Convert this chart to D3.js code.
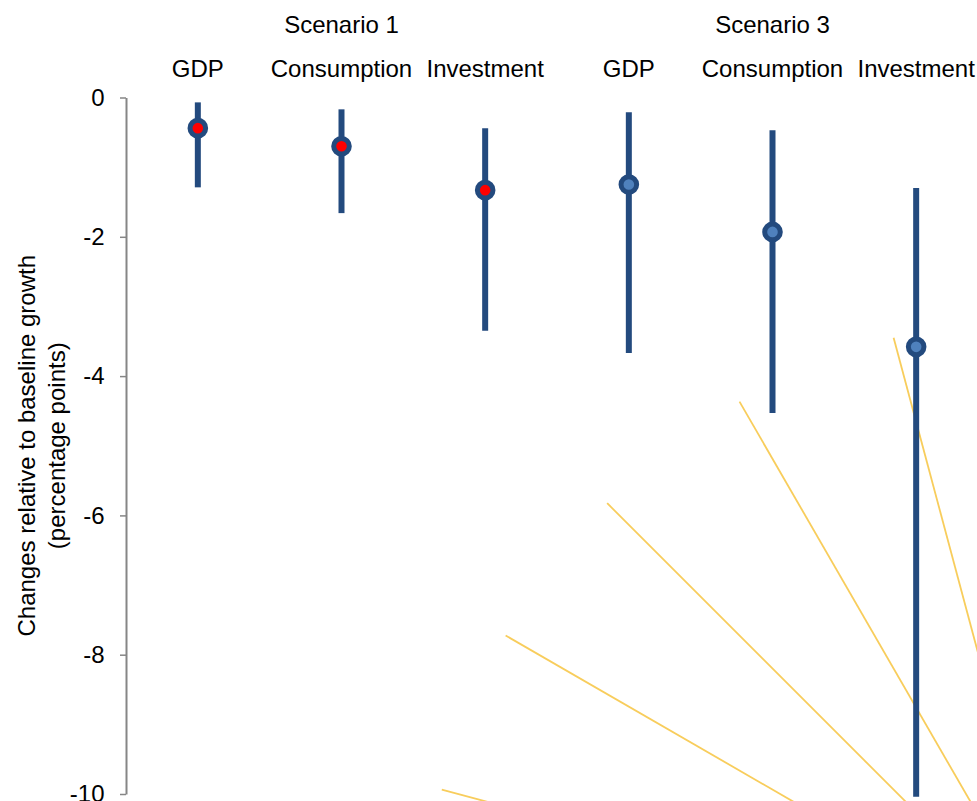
<!DOCTYPE html>
<html>
<head>
<meta charset="utf-8">
<script src="https://cdn.jsdelivr.net/npm/d3@7"></script>
<style>
  html, body { margin: 0; padding: 0; background: #ffffff; }
  svg { display: block; font-family: "Liberation Sans", Arial, sans-serif; }
</style>
</head>
<body>
<svg id="chart" width="977" height="801"></svg>
<script>
// Categories along the x axis (three per scenario)
const categories = ["GDP", "Consumption", "Investment", "GDP", "Consumption", "Investment"];
const scenarioOf = [0, 0, 0, 1, 1, 1];
const scenarios = ["Scenario 1", "Scenario 3"];

// Central estimate and range, change vs baseline growth (pp)
const central = [-0.44, -0.70, -1.33, -1.25, -1.93, -3.58];
const upper   = [-0.07, -0.17, -0.44, -0.21, -0.47, -1.30];
const lower   = [-1.29, -1.66, -3.35, -3.67, -4.53, -10.04];

const yTicks = [0, -2, -4, -6, -8, -10];

// Decorative background rays (degrees from vertical)
const rayAngles = [15, 30, 45, 60, 75];

const svg = d3.select("#chart");
const fontSize = 24;
const dark = "#234a7e";
const fills = ["#ff0000", "#4f81bd"];

const x = d3.scaleBand().domain(d3.range(categories.length)).range([126, 988]).padding(0);
const y = d3.scaleLinear().domain([0, -10]).range([97.5, 794]);
const cx = i => x(i) + x.bandwidth() / 2;

// Background rays
const rayCenter = [1059, 955];
const rayR = d3.scaleLinear().domain([0, 1]).range([639, 0]);
svg.append("g").selectAll("line")
  .data(rayAngles)
  .join("line")
  .attr("x1", a => rayCenter[0] + d3.pointRadial(-a * Math.PI / 180, rayR(0))[0])
  .attr("y1", a => rayCenter[1] + d3.pointRadial(-a * Math.PI / 180, rayR(0))[1])
  .attr("x2", a => rayCenter[0] + d3.pointRadial(-a * Math.PI / 180, rayR(1))[0])
  .attr("y2", a => rayCenter[1] + d3.pointRadial(-a * Math.PI / 180, rayR(1))[1])
  .attr("stroke", "#f8cd5c")
  .attr("stroke-width", 1.8);

// Y axis
const yAxis = d3.axisLeft(y)
  .tickValues(yTicks)
  .tickFormat(d => String(d))
  .tickSize(6)
  .tickSizeOuter(0)
  .tickPadding(15.5);

const gy = svg.append("g").attr("transform", "translate(126,0)").call(yAxis);
gy.select(".domain").attr("stroke", "#868686").attr("stroke-width", 2);
gy.selectAll(".tick line").attr("stroke", "#868686").attr("stroke-width", 1.5);
gy.selectAll(".tick text")
  .attr("fill", "#000")
  .style("font-size", fontSize + "px")
  .style("font-family", "\"Liberation Sans\", Arial, sans-serif");

// Y axis title
const yMid = (y(0) + y(-10)) / 2;
const title = svg.append("text")
  .attr("transform", `translate(0,${yMid}) rotate(-90)`)
  .attr("text-anchor", "middle")
  .style("font-size", fontSize + "px")
  .attr("fill", "#000");
title.append("tspan").attr("x", 0).attr("y", 35).text("Changes relative to baseline growth");
title.append("tspan").attr("x", 0).attr("y", 64.5).text("(percentage points)");

// Category labels
svg.append("g").selectAll("text")
  .data(categories)
  .join("text")
  .attr("x", (d, i) => cx(i))
  .attr("y", 77)
  .attr("text-anchor", "middle")
  .style("font-size", fontSize + "px")
  .attr("fill", "#000")
  .text(d => d);

// Scenario labels centred over their categories
svg.append("g").selectAll("text")
  .data(scenarios)
  .join("text")
  .attr("x", (d, s) => d3.mean(d3.range(categories.length).filter(i => scenarioOf[i] === s), cx))
  .attr("y", 33)
  .attr("text-anchor", "middle")
  .style("font-size", fontSize + "px")
  .attr("fill", "#000")
  .text(d => d);

// Range whiskers
svg.append("g").selectAll("line")
  .data(d3.range(categories.length))
  .join("line")
  .attr("x1", i => cx(i))
  .attr("x2", i => cx(i))
  .attr("y1", i => y(upper[i]))
  .attr("y2", i => y(lower[i]))
  .attr("stroke", dark)
  .attr("stroke-width", 6);

// Central estimates
svg.append("g").selectAll("circle")
  .data(d3.range(categories.length))
  .join("circle")
  .attr("cx", i => cx(i))
  .attr("cy", i => y(central[i]))
  .attr("r", 7.8)
  .attr("fill", i => fills[scenarioOf[i]])
  .attr("stroke", dark)
  .attr("stroke-width", 5);
</script>
</body>
</html>
